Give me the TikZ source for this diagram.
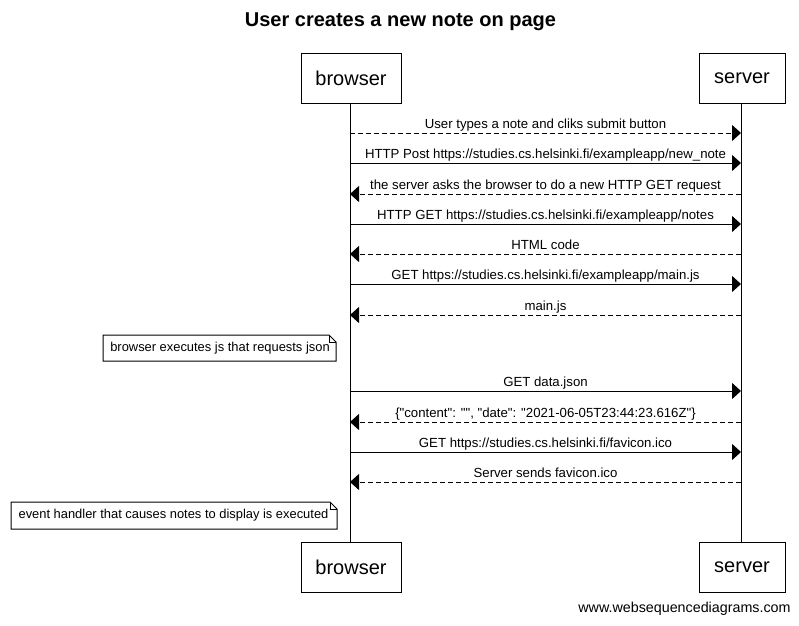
\documentclass[tikz,border=0pt]{standalone}
\usepackage{fontspec}
\setmainfont{Liberation Sans}[Ligatures=TeXOff]
\usetikzlibrary{arrows.meta}
\begin{document}
\begin{tikzpicture}[x=1pt,y=-1pt,
  actor/.style={draw,line width=1pt,minimum width=#1,minimum height=50pt,inner sep=0pt,font=\fontsize{20}{24}\selectfont},
  life/.style={line width=1pt},
  msg/.style={line width=1pt,-{Triangle[length=9pt,width=16pt]}},
  reply/.style={msg,dash pattern=on 5pt off 3pt},
  lbl/.style={anchor=base,yshift=4.5pt,inner sep=0pt,font=\fontsize{13.2}{15}\selectfont},
  notetext/.style={font=\fontsize{12.9}{15}\selectfont}
]
\useasboundingbox (0,0) rectangle (799,625);
\fill[white] (0,0) rectangle (799,625);
\node[font=\bfseries\fontsize{20}{24}\selectfont] (title) at (400.5,22) {User creates a new note on page};
\node[actor=100pt] (bt) at (351,78) {browser};
\node[actor=86pt] (st) at (742,78) {server};
\node[actor=100pt] (bb) at (351,567.5) {browser};
\node[actor=86pt] (sb) at (742,567.5) {server};
\draw[life] (350,0 |- bt.south) coordinate (bl) -- (350,0 |- bb.north) coordinate (bl2);
\draw[life] (741,0 |- st.south) coordinate (sl) -- (741,0 |- sb.north) coordinate (sl2);
% message coordinates
\foreach \n/\y in {1/133,2/163,3/194,4/224,5/254,6/284,7/315,8/391,9/422,10/452,11/482}{
  \coordinate (b\n) at (350,\y);
  \coordinate (s\n) at (741,\y);
}
\draw[reply] (b1) -- node[lbl]{User types a note and cliks submit button} (s1);
\draw[msg] (b2) -- node[lbl]{HTTP Post https://studies.cs.helsinki.fi/exampleapp/new\_note} (s2);
\draw[reply] (s3) -- node[lbl]{the server asks the browser to do a new HTTP GET request} (b3);
\draw[msg] (b4) -- node[lbl]{HTTP GET https://studies.cs.helsinki.fi/exampleapp/notes} (s4);
\draw[reply] (s5) -- node[lbl]{HTML code} (b5);
\draw[msg] (b6) -- node[lbl]{GET https://studies.cs.helsinki.fi/exampleapp/main.js} (s6);
\draw[reply] (s7) -- node[lbl]{main.js} (b7);
\draw[msg] (b8) -- node[lbl]{GET data.json} (s8);
\draw[reply] (s9) -- node[lbl]{\{"content": "", "date": "2021-06-05T23:44:23.616Z"\}} (b9);
\draw[msg] (b10) -- node[lbl]{GET https://studies.cs.helsinki.fi/favicon.ico} (s10);
\draw[reply] (s11) -- node[lbl]{Server sends favicon.ico} (b11);
% notes
\draw[line width=1pt,fill=white] (103,335) -- (329,335) -- (336,342) -- (336,361) -- (103,361) -- cycle;
\draw[line width=1pt] (329,335) -- (329,342) -- (336,342);
\node[notetext] (n1) at (220,348.5) {browser executes js that requests json};
\draw[line width=1pt,fill=white] (11,502) -- (330,502) -- (337,509) -- (337,529) -- (11,529) -- cycle;
\draw[line width=1pt] (330,502) -- (330,509) -- (337,509);
\node[notetext] (n2) at (173.5,515.5) {event handler that causes notes to display is executed};
\node[font=\fontsize{14.3}{17}\selectfont] (foot) at (684.5,609) {www.websequencediagrams.com};
\end{tikzpicture}
\end{document}
